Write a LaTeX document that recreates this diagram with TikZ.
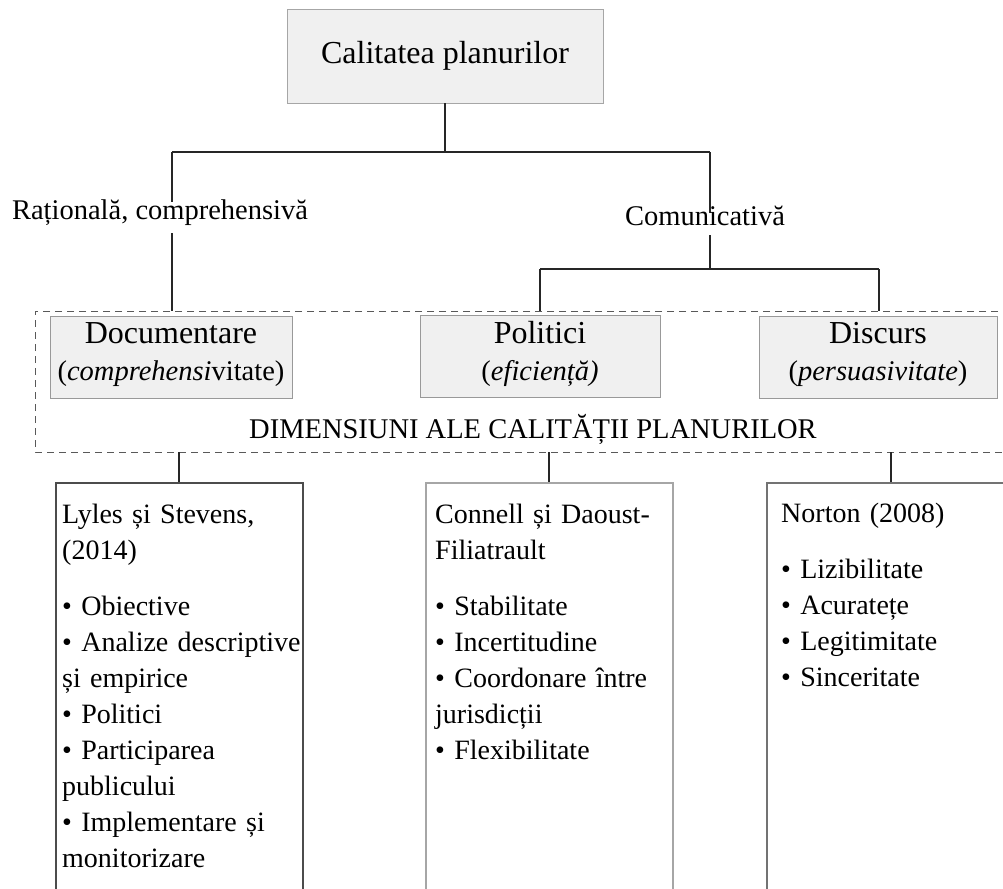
\documentclass[tikz,border=0pt]{standalone}
\usepackage{fontspec}
\setmainfont{Liberation Serif}
\begin{document}
\begin{tikzpicture}[x=1pt,y=-1pt,
  conn/.style={draw=black!85, line width=1.1pt},
  frame/.style={draw=black!65, line width=1pt, dash pattern=on 7pt off 5pt},
  dimbox/.style={draw=black!40, fill=black!6, line width=0.8pt, minimum height=82pt, inner sep=0pt},
  txt/.style={inner sep=0pt, font=\fontsize{28.5}{36}\selectfont},
  head/.style={inner sep=0pt, font=\fontsize{32}{38}\selectfont, anchor=base},
  sub/.style={txt, anchor=base},
  list/.style={inner sep=0pt, font=\fontsize{28}{36}\selectfont, anchor=north west, align=left, text width=262pt},
  lab/.style={txt, fill=white},
  colbox/.style={line width=1.2pt}
]
\useasboundingbox (0,0) rectangle (1003,888);
\clip (0,0) rectangle (1003,888);

% top node
\node[draw=black!35, fill=black!6, minimum width=316pt, minimum height=94pt, inner sep=0pt, font=\fontsize{32}{38}\selectfont] (top) at (445,56) {Calitatea planurilor};

% junctions
\coordinate (jl) at (172,152);
\coordinate (jr) at (710,152);
\coordinate (dl) at (172,311);
\coordinate (kr) at (710,269);
\coordinate (kl) at (540,269);
\coordinate (kR) at (879,269);
\coordinate (pl) at (540,311);
\coordinate (pr) at (879,311);

\draw[conn] (top.south) -- (top.south |- jl);
\draw[conn] (jl) -- (jr);
\draw[conn] (jl) -- (dl);
\draw[conn] (jr) -- (kr);
\draw[conn] (kl) -- (kR);
\draw[conn] (kl) -- (pl);
\draw[conn] (kR) -- (pr);

\node[lab, text height=17pt, text depth=14pt, anchor=base] (rat) at (160,219) {Rațională, comprehensivă};
\node[lab, text height=12pt, text depth=10pt, anchor=base] (com) at (705,225) {Comunicativă};

% dashed frame
\coordinate (fa) at (1010,311);
\coordinate (fb) at (35,311);
\coordinate (fc) at (35,452);
\coordinate (fd) at (1010,452);
\draw[frame] (fa) -- (fb) -- (fc) -- (fd);

% dimension boxes
\node[dimbox, minimum width=242pt] (doc) at (171,357) {};
\node[dimbox, minimum width=240pt] (pol) at (540,356.5) {};
\node[dimbox, minimum width=238pt] (dis) at (878,357) {};
\node[head] (doch) at (171,343) {Documentare};
\node[sub] (docs) at (171,380) {(\textit{comprehensi}vitate)};
\node[head] (polh) at (540,343) {Politici};
\node[sub] (pols) at (540,380) {(\textit{eficiență)}};
\node[head] (dish) at (878,343) {Discurs};
\node[sub] (diss) at (878,380) {(\textit{persuasivitate})};

\node[sub] (dim) at (533,438) {DIMENSIUNI ALE CALITĂȚII PLANURILOR};

% lower connectors
\coordinate (q1) at (179,452);
\coordinate (q2) at (549,452);
\coordinate (q3) at (891,452);
\coordinate (b1) at (179,483);
\coordinate (b2) at (549,483);
\coordinate (b3) at (891,483);
\draw[conn] (q1) -- (b1);
\draw[conn] (q2) -- (b2);
\draw[conn] (q3) -- (b3);

% lower boxes (open at the bottom)
\draw[colbox, draw=black!70] (56,900) -- (56,483) -- (303,483) -- (303,900);
\draw[colbox, draw=black!35] (426,900) -- (426,483) -- (673,483) -- (673,900);
\draw[colbox, draw=black!55] (767,900) -- (767,483) -- (1010,483);

\node[list] (l1) at (62,497.8) {\strut Lyles și Stevens,\\(2014)\\[20pt]• Obiective\\• Analize descriptive\\și empirice\\• Politici\\• Participarea\\publicului\\• Implementare și\\monitorizare};
\node[list] (l2) at (435,497.8) {\strut Connell și Daoust-\\Filiatrault\\[20pt]• Stabilitate\\• Incertitudine\\• Coordonare între\\jurisdicții\\• Flexibilitate};
\node[list] (l3) at (781,496.8) {\strut Norton (2008)\\[20pt]• Lizibilitate\\• Acuratețe\\• Legitimitate\\• Sinceritate};
\end{tikzpicture}
\end{document}
